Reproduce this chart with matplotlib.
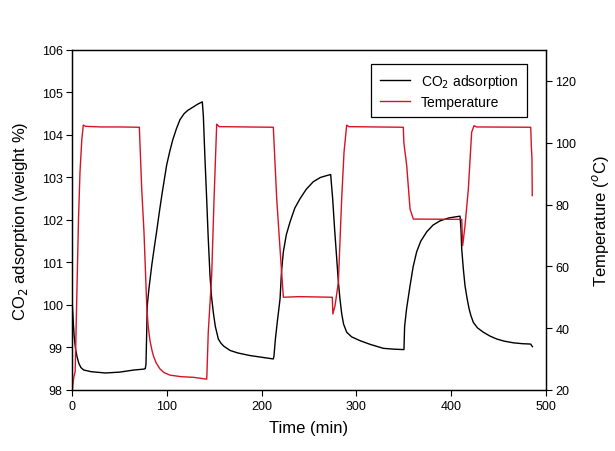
import matplotlib
matplotlib.use("Agg")
import matplotlib.pyplot as plt
import numpy as np

plt.rcParams['font.family'] = ['Liberation Sans', 'DejaVu Sans']

# CO2 adsorption trace (time in min, weight %)
co2_time = np.array([0, 1, 2, 3.5, 5, 7, 9, 12, 20, 35, 50, 65, 75, 77, 77.8, 78.5,
                     79.2, 81, 84, 87, 89, 92, 95, 99.7, 103, 106, 110, 113.7, 118, 122,
                     127.8, 132, 137.3,
                     138.4, 140, 141.9, 143.5, 145.4, 147, 148.9, 151, 154.2, 157, 160,
                     166.6, 175, 187.7, 200, 212.3,
                     213, 214.5, 216.5, 219.4, 221, 222.9, 226, 229.9, 235, 240.5, 247,
                     254.5, 262, 268, 272.9,
                     273.5, 275, 277, 279.3, 281, 282.7, 284.5, 286.5, 289.8, 295, 303.9,
                     315, 328.5, 340, 350.3,
                     351, 353, 356.7, 360, 363.7, 368, 374.3, 381, 388.4, 398, 409.5,
                     410.5, 411.3, 413, 414.8, 417, 419, 421, 423.6, 428, 434.1, 441,
                     448.2, 456, 465.8, 475, 484.2, 485, 486])
co2_vals = np.array([100.0, 99.6, 99.25, 98.95, 98.78, 98.62, 98.53, 98.47, 98.43, 98.40,
                     98.42, 98.47, 98.49, 98.5, 98.6, 99.3, 100.0, 100.4, 100.95,
                     101.42, 101.72, 102.2, 102.65, 103.3, 103.62, 103.88, 104.15,
                     104.36, 104.5, 104.58, 104.66, 104.72, 104.78,
                     104.45, 103.5, 102.5, 101.6, 100.7, 100.2, 99.83, 99.5, 99.2, 99.1,
                     99.03, 98.93, 98.87, 98.81, 98.77, 98.73,
                     98.8, 99.2, 99.6, 100.14, 100.8, 101.25, 101.65, 101.95, 102.28,
                     102.5, 102.72, 102.9, 103.0, 103.04, 103.07,
                     102.9, 102.5, 101.8, 101.08, 100.55, 100.14, 99.8, 99.55, 99.36,
                     99.25, 99.16, 99.07, 98.98, 98.96, 98.95,
                     99.5, 99.9, 100.45, 100.9, 101.25, 101.5, 101.72, 101.88, 101.98,
                     102.05, 102.09,
                     101.8, 101.32, 100.85, 100.45, 100.15, 99.92, 99.75, 99.59, 99.46,
                     99.36, 99.27, 99.2, 99.15, 99.11, 99.09, 99.08, 99.05, 99.02])

# Temperature trace (time in min, deg C)
temp_time = np.array([0, 1.5, 3, 4, 5.3, 6.5, 8.1, 10, 11.6, 14, 30, 50, 70.8, 73.3,
                      75.7, 78.6, 80, 82, 84, 85.6, 88.5, 92.6, 97, 103.2, 115, 127.8,
                      142, 143.6, 147.2, 149.7, 152.5, 155, 212.3, 215.9, 219.4, 222.9,
                      240, 274.6, 275.2, 277.5, 281, 284.5, 287, 289.8, 292, 349.6,
                      350.2, 353.2, 356.7, 360.2, 411.3, 412.3, 414.8, 418.3, 421.8,
                      424.3, 427, 484.2, 484.8, 485.5, 485.8])
temp_vals = np.array([20, 24, 26, 40, 58.2, 75, 90.5, 101, 105.7, 105.3, 105.1, 105.1,
                      105.0, 85, 71.1, 47.3, 41, 36, 33, 31.1, 28.8, 26.8, 25.6, 24.8,
                      24.3, 24.1, 23.5, 38.8, 57, 81.8, 106, 105.2, 105.0, 81.8, 65.6,
                      50, 50.2, 50.0, 44.6, 47.3, 54.8, 81.8, 97, 105.7, 105.2, 105.0,
                      100, 92.6, 78.6, 75.3, 75.2, 66.7, 73.2, 85, 103.4, 105.5, 105.1,
                      105.0, 99, 95, 82.9])

red = '#D41424'

fig = plt.figure(figsize=(6.15, 4.52), dpi=100)
ax = fig.add_axes([0.1176, 0.135, 0.7697, 0.7522])
ax2 = ax.twinx()

l1, = ax.plot(co2_time, co2_vals, color='black', lw=1.0, label='CO$_2$ adsorption')
l2, = ax2.plot(temp_time, temp_vals, color=red, lw=1.0, label='Temperature')

ax.set_xlim(0, 500)
ax.set_ylim(98, 106)
ax2.set_ylim(20, 130)
ax.set_xticks(np.arange(0, 501, 100))
ax.set_yticks(np.arange(98, 107, 1))
ax2.set_yticks(np.arange(20, 121, 20))

for a in (ax, ax2):
    a.tick_params(direction='out', length=4, width=0.8, labelsize=9, pad=3)
    for sp in a.spines.values():
        sp.set_linewidth(0.9)

ax.set_xlabel('Time (min)', fontsize=12, labelpad=6)
ax.set_ylabel('CO$_2$ adsorption (weight %)', fontsize=12, labelpad=8)
ax2.set_ylabel('Temperature ($^o$C)', fontsize=12, labelpad=10)

leg = ax.legend([l1, l2], [l1.get_label(), l2.get_label()], loc='upper right',
                bbox_to_anchor=(0.975, 0.98), fontsize=10, frameon=True,
                fancybox=False, edgecolor='black', framealpha=1,
                handlelength=2.2, borderpad=0.6, labelspacing=0.35)
leg.get_frame().set_linewidth(0.9)

fig.savefig('out.png', dpi=100)
